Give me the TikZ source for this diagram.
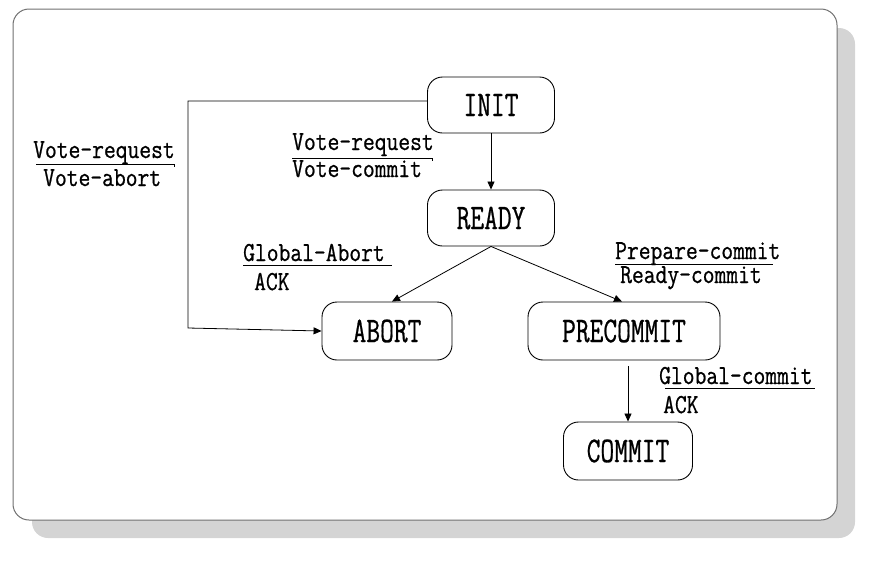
\documentclass[tikz,border=0pt]{standalone}
\usepackage{fontspec}
\usetikzlibrary{arrows.meta,calc}
\newfontfamily\monofnt[FakeBold=0.8]{Latin Modern Mono}
\definecolor{shadowgray}{HTML}{D4D4D4}
\definecolor{framegray}{HTML}{707070}
\newcommand{\lbltxt}[1]{\scalebox{1}[1.2]{#1}}
\newcommand{\statetxt}[1]{\scalebox{1}[1.35]{#1}}
\tikzset{
  state/.style={draw=black, line width=0.9pt, rounded corners=15pt, inner sep=0pt,
    font=\monofnt\fontsize{26.7}{28}\selectfont},
  lbl/.style={anchor=base west, inner sep=0pt, font=\monofnt\fontsize{22.9}{24}\selectfont},
  arr/.style={draw=black, line width=0.8pt, -{Triangle[length=8pt,width=7pt]}},
  rule/.style={draw=black, line width=0.8pt},
}
\begin{document}
\begin{tikzpicture}[x=1pt,y=-1pt]
\useasboundingbox (0,0) rectangle (872,560);
% frame with shadow
\fill[shadowgray, rounded corners=16pt] (32,28) rectangle (855,538);
\draw[framegray, fill=white, line width=1pt, rounded corners=16pt] (13,9) rectangle (837,520);

% states
\node[state, minimum width=127pt, minimum height=56pt] (init) at (491,105) {\statetxt{INIT}};
\node[state, minimum width=127pt, minimum height=56pt] (ready) at (491,218) {\statetxt{READY}};
\node[state, minimum width=130pt, minimum height=58pt] (abort) at (387,331) {\statetxt{ABORT}};
\node[state, minimum width=192pt, minimum height=58pt] (precommit) at (624,331) {\statetxt{PRECOMMIT}};
\node[state, minimum width=129pt, minimum height=58pt] (commit) at (628,451) {\statetxt{COMMIT}};

% connectors
\draw[arr] (init.south) -- (ready.north);
\draw[arr] (ready.south) -- ($(abort.north)+(5,0)$);
\draw[arr] (ready.south) -- ($(precommit.north)+(-2,0)$);
\draw[arr, shorten <=6pt] (precommit.south -| commit.north) -- (commit.north);
\coordinate (c1) at (188,101);
\coordinate (c2) at (188,328);
\draw[arr] (init.west |- c1) -- (c1) -- (c2) -- (abort.west);

% labels
\node[lbl] (l1a) at (292,150) {\lbltxt{Vote-request}};
\node[lbl] (l1b) at (292,177) {\lbltxt{Vote-commit}};
\draw[rule] (292,158) -- (432,158) -- (432,161);

\node[lbl] (l2a) at (33,158) {\lbltxt{Vote-request}};
\node[lbl] (l2b) at (43,186) {\lbltxt{Vote-abort}};
\draw[rule] (36,164) -- (174,164) -- (174,167);

\node[lbl] (l3a) at (243,261) {\lbltxt{Global-Abort}};
\draw[rule] (243,265) -- (392,265);
\node[lbl] (l3b) at (254,290) {\lbltxt{ACK}};

\node[lbl] (l4a) at (615,259) {\lbltxt{Prepare-commit}};
\draw[rule] (615,264) -- (773,264);
\node[lbl] (l4b) at (620,283) {\lbltxt{Ready-commit}};

\node[lbl] (l5a) at (659,384) {\lbltxt{Global-commit}};
\draw[rule] (665,388) -- (815,388);
\node[lbl] (l5b) at (663,413) {\lbltxt{ACK}};
\end{tikzpicture}
\end{document}
